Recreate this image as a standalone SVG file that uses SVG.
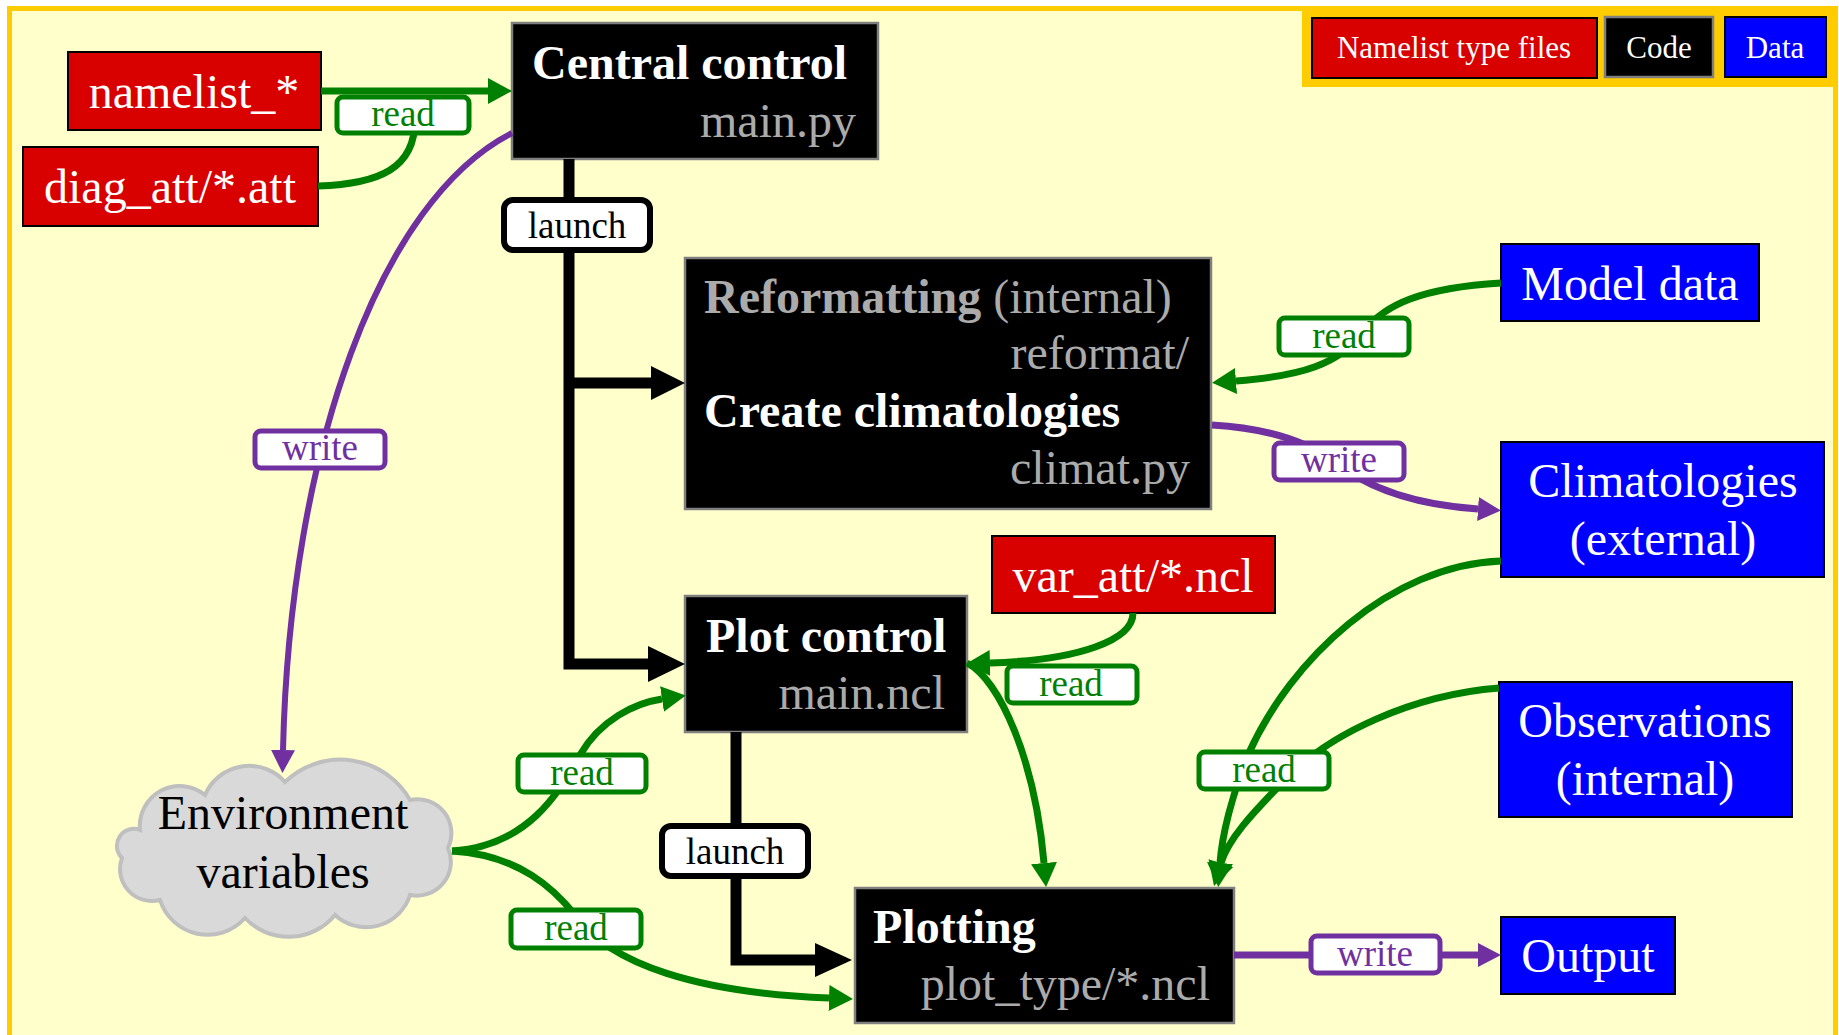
<svg xmlns="http://www.w3.org/2000/svg" width="1839" height="1035" viewBox="0 0 1839 1035">
<style>
text{font-family:"Liberation Serif","Times New Roman",serif}
.big{font-size:48px}
.lbl{font-size:37px;text-anchor:middle}
.leg{font-size:31px;fill:#fff;text-anchor:middle}
.mid{text-anchor:middle}
.end{text-anchor:end}
.b{font-weight:bold}
.w{fill:#fff}
.g{fill:#ABABAB}
.red{fill:#D90000;stroke:#000;stroke-width:2}
.blue{fill:#0000FF;stroke:#000;stroke-width:2}
.code{fill:#000;stroke:#7F7F7F;stroke-width:2.5}
.cg{fill:none;stroke:#008000;stroke-width:7}
.cp{fill:none;stroke:#7030A0;stroke-width:7}
.ck{fill:none;stroke:#000;stroke-width:11;stroke-linejoin:miter}
.lg{fill:#fff;stroke:#008000;stroke-width:5}
.lp{fill:#fff;stroke:#7030A0;stroke-width:5}
.lk{fill:#fff;stroke:#000;stroke-width:6}
.tg{fill:#008000}
.tp{fill:#7030A0}
</style>
<defs>
<marker id="ag" markerUnits="userSpaceOnUse" markerWidth="24" markerHeight="26" viewBox="0 0 24 26" refX="0" refY="13" orient="auto"><path d="M0,0 L24,13 L0,26 Z" fill="#008000"/></marker>
<marker id="ap" markerUnits="userSpaceOnUse" markerWidth="23" markerHeight="24" viewBox="0 0 23 24" refX="0" refY="12" orient="auto"><path d="M0,0 L23,12 L0,24 Z" fill="#7030A0"/></marker>
</defs>
<rect x="0" y="0" width="1839" height="1035" fill="#FFFFFF"/>
<rect x="9.5" y="8.5" width="1826" height="1100" fill="#FFFFCC" stroke="#FFCC00" stroke-width="5"/>

<g id="legend">
<rect x="1302" y="6" width="535" height="81" fill="#FFCC00"/>
<rect class="red" x="1312" y="18" width="285" height="60"/>
<text class="leg" x="1454" y="58">Namelist type files</text>
<rect class="code" x="1605" y="17" width="108" height="60"/>
<text class="leg" x="1659" y="58">Code</text>
<rect class="blue" x="1725" y="17" width="101" height="60"/>
<text class="leg" x="1775" y="58">Data</text>
</g>

<g id="namelist">
<rect class="red" x="68" y="52" width="253" height="78"/>
<text class="big w mid" x="194" y="108">namelist_*</text>
</g>
<g id="diag_att">
<rect class="red" x="23" y="147" width="295" height="79"/>
<text class="big w mid" x="170" y="203">diag_att/*.att</text>
</g>
<g id="central_control">
<rect class="code" x="512" y="23" width="366" height="136"/>
<text class="big w b" x="532" y="79">Central control</text>
<text class="big g end" x="856" y="137">main.py</text>
</g>
<g id="reformatting">
<rect class="code" x="685" y="258" width="526" height="251"/>
<text class="big g" x="704" y="313"><tspan class="b">Reformatting</tspan> (internal)</text>
<text class="big g end" x="1189" y="369">reformat/</text>
<text class="big w b" x="704" y="427">Create climatologies</text>
<text class="big g end" x="1190" y="484">climat.py</text>
</g>
<g id="plot_control">
<rect class="code" x="685" y="596" width="282" height="136"/>
<text class="big w b" x="706" y="652">Plot control</text>
<text class="big g end" x="945" y="709">main.ncl</text>
</g>
<g id="var_att">
<rect class="red" x="992" y="536" width="283" height="77"/>
<text class="big w mid" x="1133" y="592">var_att/*.ncl</text>
</g>
<g id="plotting">
<rect class="code" x="855" y="888" width="379" height="135"/>
<text class="big w b" x="873" y="943">Plotting</text>
<text class="big g end" x="1210" y="1000">plot_type/*.ncl</text>
</g>
<g id="model_data">
<rect class="blue" x="1501" y="244" width="258" height="77"/>
<text class="big w mid" x="1630" y="300">Model data</text>
</g>
<g id="climatologies">
<rect class="blue" x="1501" y="442" width="323" height="135"/>
<text class="big w mid" x="1663" y="497">Climatologies</text>
<text class="big w mid" x="1663" y="555">(external)</text>
</g>
<g id="observations">
<rect class="blue" x="1499" y="682" width="293" height="135"/>
<text class="big w mid" x="1645" y="737">Observations</text>
<text class="big w mid" x="1645" y="795">(internal)</text>
</g>
<g id="output">
<rect class="blue" x="1501" y="917" width="174" height="77"/>
<text class="big w mid" x="1588" y="972">Output</text>
</g>
<g id="environment">
<path d="M140,830 A40,40 0 0 1 205,795 A48,48 0 0 1 285,782 A80,80 0 0 1 410,800 A34,34 0 0 1 448,848 A34,34 0 0 1 410,895 A46,46 0 0 1 335,915 A60,60 0 0 1 245,918 A50,50 0 0 1 160,900 A32,32 0 0 1 122,858 A17,17 0 0 1 140,830 Z" fill="#D9D9D9" stroke="#BFBFBF" stroke-width="4"/>
<text class="big mid" x="283" y="829">Environment</text>
<text class="big mid" x="283" y="888">variables</text>
</g>

<g id="connectors">
<path class="cg" d="M321,91 H488" marker-end="url(#ag)"/>
<path class="cg" d="M318,186 C380,184 415,168 415,120"/>
<path class="ck" d="M569,159 V664 H649"/>
<polygon points="648,646 685,664 648,682" fill="#000"/>
<path class="ck" d="M569,383 H652"/>
<polygon points="651,366 685,383 651,400" fill="#000"/>
<path class="ck" d="M736,732 V960 H816"/>
<polygon points="815,943 852,960 815,977" fill="#000"/>
<path class="cp" style="stroke-width:6" d="M512,133 C380,200 290,450 283,750" marker-end="url(#ap)"/>
<path class="cg" d="M1501,283 C1420,288 1385,305 1365,330 C1340,365 1300,376 1236,381" marker-end="url(#ag)"/>
<path class="cp" d="M1212,425 C1265,428 1305,440 1335,462 C1370,490 1420,505 1478,509" marker-end="url(#ap)"/>
<path class="cg" d="M1501,561 C1390,565 1290,660 1248,755 C1232,795 1222,835 1220,863" marker-end="url(#ag)"/>
<path class="cg" d="M1499,688 C1410,695 1330,735 1290,775 C1250,815 1228,840 1221,863" marker-end="url(#ag)"/>
<path class="cg" d="M1133,613 C1133,640 1080,660 990,663" marker-end="url(#ag)"/>
<path class="cg" d="M967,663 C1000,680 1035,760 1044,863" marker-end="url(#ag)"/>
<path class="cg" d="M452,851 C530,846 560,790 580,755 C600,720 635,703 662,699" marker-end="url(#ag)"/>
<path class="cg" d="M452,851 C520,855 555,890 575,915 C610,965 700,993 829,998" marker-end="url(#ag)"/>
<path class="cp" d="M1234,955 H1478" marker-end="url(#ap)"/>
</g>

<g id="labels">
<rect class="lg" x="337" y="97" width="132" height="36" rx="6"/>
<text class="lbl tg" x="403" y="126">read</text>
<rect class="lk" x="504" y="200" width="146" height="50" rx="9"/>
<text class="lbl" x="577" y="238">launch</text>
<rect class="lp" x="255" y="431" width="130" height="37" rx="6"/>
<text class="lbl tp" x="320" y="460">write</text>
<rect class="lg" x="1279" y="318" width="130" height="37" rx="6"/>
<text class="lbl tg" x="1344" y="348">read</text>
<rect class="lp" x="1274" y="443" width="130" height="37" rx="6"/>
<text class="lbl tp" x="1339" y="472">write</text>
<rect class="lg" x="1007" y="666" width="130" height="37" rx="6"/>
<text class="lbl tg" x="1071" y="696">read</text>
<rect class="lg" x="1199" y="752" width="130" height="37" rx="6"/>
<text class="lbl tg" x="1264" y="782">read</text>
<rect class="lg" x="518" y="755" width="128" height="37" rx="6"/>
<text class="lbl tg" x="582" y="785">read</text>
<rect class="lg" x="511" y="910" width="130" height="38" rx="6"/>
<text class="lbl tg" x="576" y="940">read</text>
<rect class="lk" x="662" y="826" width="146" height="50" rx="9"/>
<text class="lbl" x="735" y="864">launch</text>
<rect class="lp" x="1311" y="936" width="129" height="37" rx="6"/>
<text class="lbl tp" x="1375" y="966">write</text>
</g>
</svg>
